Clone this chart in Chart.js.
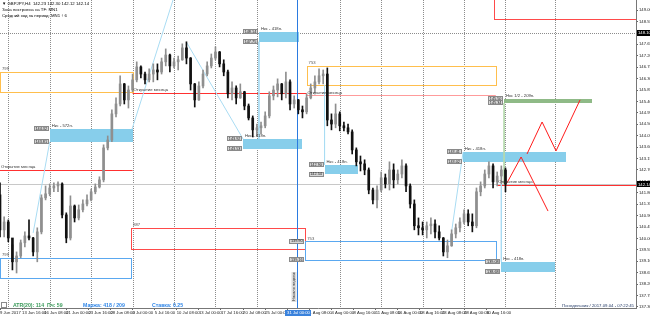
<!DOCTYPE html>
<html>
<head>
<meta charset="utf-8">
<script src="https://cdn.jsdelivr.net/npm/chart.js@4/dist/chart.umd.min.js"></script>
<style>
  html, body { margin: 0; padding: 0; background: #fff; }
</style>
</head>
<body>
<canvas id="chart" width="650" height="318"></canvas>
<script>
// GBPJPY H4, each candle = 3 H4 bars
const BARS_PER_CANDLE = 3;
const BARS_PER_LABEL = 16;

const timeLabels = ['9 Jun 2017', '13 Jun 16:00', '16 Jun 08:00', '21 Jun 00:00', '23 Jun 16:00', '28 Jun 08:00',
  '3 Jul 00:00', '5 Jul 16:00', '10 Jul 08:00', '13 Jul 00:00', '17 Jul 16:00', '20 Jul 08:00', '25 Jul 00:00',
  '27 Jul 16:00', '1 Aug 08:00', '4 Aug 00:00', '8 Aug 16:00', '11 Aug 08:00', '16 Aug 00:00', '18 Aug 16:00',
  '23 Aug 08:00', '28 Aug 00:00', '30 Aug 16:00'];

const priceTicks = [137.30, 137.75, 138.20, 138.65, 139.10, 139.55, 140.00, 140.45, 140.90, 141.35, 141.80,
  142.25, 142.70, 143.15, 143.60, 144.05, 144.50, 144.95, 145.40, 145.85, 146.30, 146.75, 147.20, 147.65,
  148.10, 148.55, 149.00];

const opens = [141.72, 140.34, 140.65, 140.02, 139.08, 139.31, 139.83, 140.10, 140.02, 139.47,
  140.26, 141.60, 141.76, 141.99, 142.07, 142.15, 140.93, 140.02, 141.28, 140.81,
  141.13, 141.36, 141.52, 141.84, 142.03, 142.31, 143.57, 143.88, 144.91, 145.30,
  146.09, 145.46, 145.85, 146.25, 146.76, 146.48, 146.25, 146.48, 146.64, 146.56,
  146.96, 147.23, 146.80, 146.96, 147.04, 147.51, 147.11, 146.09, 145.46, 146.01,
  146.48, 146.80, 147.11, 147.35, 146.88, 146.56, 145.70, 145.93, 145.54, 145.78,
  145.22, 144.75, 144.28, 144.36, 144.44, 144.83, 145.62, 145.85, 146.09, 145.70,
  146.17, 145.30, 145.46, 145.07, 144.99, 145.54, 145.93, 146.17, 146.41, 146.48,
  144.67, 144.51, 144.91, 144.44, 144.36, 144.20, 143.49, 143.02, 142.94, 142.70,
  141.91, 141.52, 141.91, 142.39, 142.15, 142.70, 142.31, 142.54, 142.86, 142.07,
  141.36, 140.50, 140.42, 140.34, 140.50, 140.57, 140.26, 140.02, 139.47, 139.71,
  140.18, 140.42, 140.65, 140.97, 140.65, 140.50, 141.84, 142.07, 142.54, 142.86,
  142.23, 142.46, 142.70];
const highs = [142.19, 140.85, 140.73, 139.75, 139.47, 139.94, 140.26, 140.73, 140.04, 140.42,
  141.72, 142.07, 142.15, 142.19, 142.23, 142.19, 141.01, 141.68, 141.32, 141.32,
  141.52, 141.72, 141.95, 142.15, 142.43, 143.69, 144.04, 145.07, 145.54, 146.41,
  146.11, 146.01, 146.48, 146.96, 146.80, 146.56, 146.68, 146.88, 146.88, 147.11,
  147.47, 147.27, 147.11, 147.19, 147.67, 147.75, 147.13, 146.11, 146.17, 146.64,
  146.96, 147.27, 147.55, 147.37, 147.04, 146.64, 146.17, 146.01, 146.09, 145.80,
  145.30, 144.83, 144.51, 144.59, 144.99, 145.78, 146.01, 146.29, 146.11, 146.56,
  146.25, 145.62, 145.48, 145.22, 145.70, 146.09, 146.41, 146.68, 146.64, 146.72,
  144.91, 145.30, 144.99, 144.59, 144.51, 144.28, 143.57, 143.25, 143.10, 142.78,
  141.99, 142.07, 142.62, 142.54, 143.02, 142.94, 142.70, 143.10, 142.94, 142.15,
  141.52, 140.81, 140.65, 140.65, 140.81, 140.73, 140.50, 140.04, 139.94, 140.34,
  140.57, 140.81, 141.13, 141.13, 140.97, 141.99, 142.23, 142.70, 143.02, 142.94,
  142.62, 142.86, 142.78];
const lows = [140.06, 140.06, 139.87, 138.76, 138.64, 139.24, 139.67, 139.94, 139.31, 139.08,
  140.18, 141.52, 141.68, 141.84, 141.84, 140.81, 139.83, 139.94, 140.65, 140.73,
  141.05, 141.28, 141.48, 141.76, 141.99, 142.23, 143.49, 143.81, 144.79, 145.22,
  145.30, 145.14, 145.78, 146.17, 146.33, 146.09, 146.17, 146.17, 146.25, 146.48,
  146.80, 146.56, 146.72, 146.64, 147.02, 146.88, 145.85, 145.18, 145.44, 145.93,
  146.41, 146.72, 147.04, 146.76, 146.41, 145.54, 145.46, 145.30, 145.52, 145.07,
  144.67, 144.00, 144.04, 144.12, 144.36, 144.75, 145.46, 145.58, 145.46, 145.54,
  145.07, 145.14, 144.91, 144.75, 144.91, 145.50, 145.74, 146.09, 146.09, 144.44,
  144.28, 144.36, 144.24, 144.24, 144.12, 143.33, 142.86, 142.66, 142.51, 141.76,
  141.36, 141.20, 141.84, 141.99, 141.91, 141.99, 142.15, 142.39, 141.84, 141.20,
  140.34, 140.14, 140.14, 140.02, 140.18, 140.02, 139.94, 139.31, 139.24, 139.69,
  140.02, 140.26, 140.57, 140.50, 140.26, 140.42, 141.68, 141.99, 142.39, 141.99,
  142.07, 142.15, 141.84];
const closes = [140.34, 140.65, 140.02, 139.08, 139.31, 139.83, 140.10, 140.02, 139.47, 140.26,
  141.60, 141.76, 141.99, 142.07, 142.15, 140.93, 140.02, 141.28, 140.81, 141.13,
  141.36, 141.52, 141.84, 142.03, 142.31, 143.57, 143.88, 144.91, 145.30, 146.09,
  145.46, 145.85, 146.25, 146.76, 146.48, 146.25, 146.48, 146.64, 146.56, 146.96,
  147.23, 146.80, 146.96, 147.04, 147.51, 147.11, 146.09, 145.46, 146.01, 146.48,
  146.80, 147.11, 147.35, 146.88, 146.56, 145.70, 145.93, 145.54, 145.78, 145.22,
  144.75, 144.28, 144.36, 144.44, 144.83, 145.62, 145.85, 146.09, 145.70, 146.17,
  145.30, 145.46, 145.07, 144.99, 145.54, 145.93, 146.17, 146.41, 146.48, 144.67,
  144.51, 144.91, 144.44, 144.36, 144.20, 143.49, 143.02, 142.94, 142.70, 141.91,
  141.52, 141.91, 142.39, 142.15, 142.70, 142.31, 142.54, 142.86, 142.07, 141.36,
  140.50, 140.42, 140.34, 140.50, 140.57, 140.26, 140.02, 139.47, 139.71, 140.18,
  140.42, 140.65, 140.97, 140.65, 140.50, 141.84, 142.07, 142.54, 142.86, 142.23,
  142.46, 142.70, 142.14];

// objects on the chart, in bar index / price
const weekStartBars = [6, 36, 66, 96, 126, 156, 186, 246, 276, 306, 336, 366, 402];
const levelPrice = 148.10;
const separatorBar = 215.4;

const monthOpenFrom = [0, 96, 222, 360];
const monthOpenTo = [96, 222, 359, 461];
const monthOpenPrice = [142.70, 145.74, 145.64, 142.11];

// Нкс zones
const zoneFrom = [36, 187.5, 176, 235, 335, 363, 365];
const zoneTo = [96, 216.5, 219, 259, 410, 402, 429];
const zoneTop = [144.32, 148.14, 143.92, 142.90, 143.41, 139.08, 145.50];
const zoneBottom = [143.81, 147.75, 143.53, 142.54, 143.02, 138.68, 145.34];
const zoneText = ['Нкс - 572п.', 'Нкс - 418п.', 'Нкс - 418п.', 'Нкс - 418п.', 'Нкс - 418п.', 'Нкс - 418п.', 'Нкс 1/2 - 209п.'];
const zoneHalf = [false, false, false, false, false, false, true];

// range boxes
const boxFrom = [0, 0, 95, 221, 222, 358];
const boxTo = [96, 94.5, 221, 359, 359, 461];
const boxTop = [146.56, 139.24, 140.42, 139.90, 146.80, 149.60];
const boxBottom = [145.78, 138.45, 139.59, 139.16, 146.05, 148.65];
const boxText = ['799', '799', '887', '753', '753', ''];
const boxKind = ['up', 'down', 'sell', 'down', 'up', 'sell'];
const boxTags = [false, false, false, true, false, false];

// thin connecting lines
const swingBars = [[24, 36], [95.6, 125.3], [135.4, 176], [187.5, 187.5], [235, 235], [326, 335.3], [363, 363]];
const swingPrices = [[140.22, 143.81], [144.31, 149.40], [147.70, 143.92], [147.75, 143.92], [146.05, 142.90], [139.90, 143.41], [142.14, 139.08]];
const targetBars = [365, 365];
const targetPrices = [145.34, 142.14];

// forecast zigzags
const forecastABars = [367.1, 377.3, 396.8];
const forecastAPrices = [142.19, 143.21, 141.08];
const forecastBBars = [381.6, 392.5, 402.6, 420.0];
const forecastBPrices = [143.33, 144.59, 143.45, 145.46];

const bidPrice = closes[closes.length - 1];
const FONT = '"Liberation Sans", Arial, sans-serif';

const candleX = opens.map((o, i) => i * BARS_PER_CANDLE);
const candleColor = opens.map((o, i) => closes[i] >= o ? '#8f8f8f' : '#111111');

function lineSet(bars, prices, color) {
    return {
        type: 'line',
        data: bars.map((b, i) => ({ x: b, y: prices[i] })),
        borderColor: color,
        borderWidth: 1,
        pointRadius: 0,
        tension: 0,
        order: 2,
    };
}

function px(v) { return Math.round(v) + 0.5; }

function hLine(ctx, x0, x1, y) {
    ctx.beginPath(); ctx.moveTo(x0, px(y)); ctx.lineTo(x1, px(y)); ctx.stroke();
}
function vLine(ctx, x, y0, y1) {
    ctx.beginPath(); ctx.moveTo(px(x), y0); ctx.lineTo(px(x), y1); ctx.stroke();
}

function priceTag(ctx, xRight, yc, price) {
    const w = 15, h = 5;
    const x0 = Math.round(xRight - w), y0 = Math.round(yc - h / 2);
    ctx.fillStyle = '#d6d6d6';
    ctx.fillRect(x0, y0, w, h);
    ctx.strokeStyle = '#8a8a8a';
    ctx.strokeRect(x0 + 0.5, y0 + 0.5, w - 1, h - 1);
    ctx.fillStyle = '#222';
    ctx.font = '3.8px ' + FONT;
    ctx.textAlign = 'center';
    ctx.textBaseline = 'middle';
    ctx.fillText(price.toFixed(2), xRight - w / 2, yc + 0.3);
}

const boxColors = { up: '#ffbf4d', down: '#5aa8f0', sell: '#ff4a4a' };

const objectsPlugin = {
    id: 'objects',
    beforeDatasetsDraw(chart) {
        const { ctx, chartArea: a, scales: { x, y } } = chart;
        ctx.save();
        ctx.beginPath();
        ctx.rect(a.left, a.top, a.width, a.height);
        ctx.clip();
        ctx.lineWidth = 1;

        // weekly grid
        ctx.strokeStyle = '#8c8c8c';
        ctx.setLineDash([1, 1]);
        weekStartBars.forEach(b => vLine(ctx, x.getPixelForValue(b), a.top, a.bottom));
        hLine(ctx, a.left, a.right, y.getPixelForValue(levelPrice));
        ctx.setLineDash([]);

        // bid line
        ctx.strokeStyle = '#c8c8c8';
        hLine(ctx, a.left, a.right, y.getPixelForValue(bidPrice));

        // zones
        zoneFrom.forEach((f, i) => {
            const x0 = Math.round(x.getPixelForValue(f)), x1 = Math.round(x.getPixelForValue(zoneTo[i]));
            const y0 = Math.round(y.getPixelForValue(zoneTop[i])), y1 = Math.round(y.getPixelForValue(zoneBottom[i]));
            ctx.fillStyle = zoneHalf[i] ? '#8fba87' : '#87ceeb';
            ctx.fillRect(x0, y0, x1 - x0, y1 - y0);
        });

        // range boxes
        boxFrom.forEach((f, i) => {
            const x0 = Math.round(x.getPixelForValue(f)), x1 = Math.round(x.getPixelForValue(boxTo[i]));
            const y0 = Math.round(y.getPixelForValue(boxTop[i])), y1 = Math.round(y.getPixelForValue(boxBottom[i]));
            ctx.strokeStyle = boxColors[boxKind[i]];
            ctx.strokeRect(x0 + 0.5, y0 + 0.5, x1 - x0, y1 - y0);
        });

        // month open lines
        monthOpenFrom.forEach((f, i) => {
            ctx.strokeStyle = i === 2 ? '#ff9b9b' : '#ff3030';
            hLine(ctx, x.getPixelForValue(f), x.getPixelForValue(monthOpenTo[i]), y.getPixelForValue(monthOpenPrice[i]));
        });

        // separator
        ctx.strokeStyle = '#2b7be0';
        vLine(ctx, x.getPixelForValue(separatorBar), a.top, a.bottom);
        ctx.restore();
    },
    afterDatasetsDraw(chart) {
        const { ctx, chartArea: a, scales: { x, y } } = chart;
        ctx.save();
        ctx.textBaseline = 'alphabetic';
        ctx.textAlign = 'left';
        ctx.font = '4.2px ' + FONT;

        ctx.fillStyle = '#333';
        monthOpenFrom.forEach((f, i) => {
            ctx.fillText('Открытие месяца', x.getPixelForValue(f) + 1, y.getPixelForValue(monthOpenPrice[i]) - 1.5);
        });

        zoneFrom.forEach((f, i) => {
            const x0 = x.getPixelForValue(f);
            ctx.font = '4.2px ' + FONT;
            ctx.fillStyle = '#333';
            ctx.textAlign = 'left';
            ctx.textBaseline = 'alphabetic';
            ctx.fillText(zoneText[i], x0 + 2, y.getPixelForValue(zoneTop[i]) - 1.5);
            priceTag(ctx, x0 - 1, y.getPixelForValue(zoneTop[i]), zoneTop[i]);
            priceTag(ctx, x0 - 1, y.getPixelForValue(zoneBottom[i]), zoneBottom[i]);
        });

        boxFrom.forEach((f, i) => {
            const x0 = x.getPixelForValue(f);
            ctx.font = '4.2px ' + FONT;
            ctx.fillStyle = '#555';
            ctx.textAlign = 'left';
            ctx.textBaseline = 'alphabetic';
            if (boxText[i]) ctx.fillText(boxText[i], x0 + 2, y.getPixelForValue(boxTop[i]) - 1.5);
            if (boxTags[i]) {
                priceTag(ctx, x0 - 1, y.getPixelForValue(boxTop[i]), boxTop[i]);
                priceTag(ctx, x0 - 1, y.getPixelForValue(boxBottom[i]), boxBottom[i]);
            }
        });

        // separator caption
        const sx = x.getPixelForValue(separatorBar);
        ctx.save();
        ctx.translate(sx - 2, a.bottom - 6);
        ctx.rotate(-Math.PI / 2);
        ctx.fillStyle = '#dcdcdc';
        ctx.fillRect(0, -4, 30, 5);
        ctx.fillStyle = '#333';
        ctx.font = '4px ' + FONT;
        ctx.textAlign = 'left';
        ctx.textBaseline = 'middle';
        ctx.fillText('Начало недели', 1, -1.5);
        ctx.restore();
        ctx.restore();
    },
    afterDraw(chart) {
        const { ctx, chartArea: a, scales: { x, y } } = chart;
        ctx.save();
        // highlighted axis values
        [[levelPrice, levelPrice.toFixed(2)], [bidPrice, bidPrice.toFixed(2)]].forEach(([p, t]) => {
            const yc = y.getPixelForValue(p);
            ctx.fillStyle = '#000';
            ctx.fillRect(a.right + 1, Math.round(yc - 3), 13, 6);
            ctx.fillStyle = '#fff';
            ctx.font = '4.2px ' + FONT;
            ctx.textAlign = 'left';
            ctx.textBaseline = 'middle';
            ctx.fillText(t, a.right + 2, yc + 0.3);
        });
        const sx = x.getPixelForValue(separatorBar);
        ctx.fillStyle = '#3a82dc';
        ctx.fillRect(Math.round(sx - 12), a.bottom + 2, 26, 6);
        ctx.fillStyle = '#fff';
        ctx.font = '4.2px ' + FONT;
        ctx.textAlign = 'center';
        ctx.fillText('31 Jul 00:00', sx + 1, a.bottom + 5);

        // header
        ctx.fillStyle = '#000';
        ctx.textAlign = 'left';
        ctx.textBaseline = 'middle';
        ctx.font = '4.3px ' + FONT;
        ctx.fillText('▼ GBPJPY,H4  142.23 142.30 142.12 142.14', 2, 4);
        ctx.fillText('Зона построена на TF: MN1', 2, 10);
        ctx.fillText('Средний ход за период: MN1 ↑ 6', 2, 16);

        // status line
        ctx.strokeStyle = '#8a8a8a';
        ctx.strokeRect(1.5, 302.5, 5, 5);
        ctx.font = 'bold 5.2px ' + FONT;
        ctx.fillStyle = '#3a9a5a';
        ctx.fillText('ATR(20): 114  Пч: 59', 13, 306);
        ctx.fillStyle = '#2f86e8';
        ctx.fillText('Маржа: 418 / 209', 83, 306);
        ctx.fillText('Ставка: 0.25', 152, 306);
        ctx.font = '4.3px ' + FONT;
        ctx.fillStyle = '#233a66';
        ctx.textAlign = 'right';
        ctx.fillText('Понедельник / 2017.09.04 - 07:22:45', a.right - 2, 305.5);
        ctx.restore();
    }
};

const datasets = [
    {
        data: candleX.map((b, i) => ({ x: b, y: [opens[i], closes[i]] })),
        backgroundColor: candleColor,
        barThickness: 2,
        minBarLength: 1,
        grouped: false,
        order: 0,
    },
    {
        data: candleX.map((b, i) => ({ x: b, y: [lows[i], highs[i]] })),
        backgroundColor: candleColor,
        barThickness: 1,
        grouped: false,
        order: 1,
    },
];
swingBars.forEach((b, i) => datasets.push(lineSet(b, swingPrices[i], '#a9dcf3')));
datasets.push(lineSet(targetBars, targetPrices, '#b5d9ad'));
datasets.push(lineSet(forecastABars, forecastAPrices, '#ff1a1a'));
datasets.push(lineSet(forecastBBars, forecastBPrices, '#ff1a1a'));

new Chart(document.getElementById('chart'), {
    type: 'bar',
    data: { datasets },
    options: {
        responsive: false,
        animation: false,
        layout: { padding: 0 },
        plugins: { legend: { display: false }, tooltip: { enabled: false } },
        scales: {
            x: {
                type: 'linear',
                min: 0,
                max: 460.5,
                offset: false,
                grid: { display: true, drawOnChartArea: false, drawTicks: true, tickLength: 2, color: '#666', offset: false },
                border: { display: true, color: '#777' },
                ticks: {
                    autoSkip: false,
                    maxRotation: 0,
                    align: 'start',
                    padding: 0,
                    color: '#222',
                    font: { family: FONT, size: 4.2 },
                    callback: (v, i) => timeLabels[i],
                },
                afterBuildTicks: axis => { axis.ticks = timeLabels.map((t, k) => ({ value: k * BARS_PER_LABEL })); },
                afterFit: axis => { axis.height = 10; axis.paddingLeft = 0; axis.paddingRight = 0; },
            },
            y: {
                position: 'right',
                min: 137.26,
                max: 149.397,
                grid: { display: true, drawOnChartArea: false, drawTicks: true, tickLength: 2, color: '#666' },
                border: { display: true, color: '#777' },
                ticks: {
                    autoSkip: false,
                    padding: 1,
                    color: '#222',
                    font: { family: FONT, size: 4.2 },
                    callback: v => v.toFixed(2),
                },
                afterBuildTicks: axis => { axis.ticks = priceTicks.map(v => ({ value: v })); },
                afterFit: axis => { axis.width = 14; axis.paddingTop = 0; axis.paddingBottom = 0; },
            },
        },
    },
    plugins: [objectsPlugin],
});
</script>
</body>
</html>
